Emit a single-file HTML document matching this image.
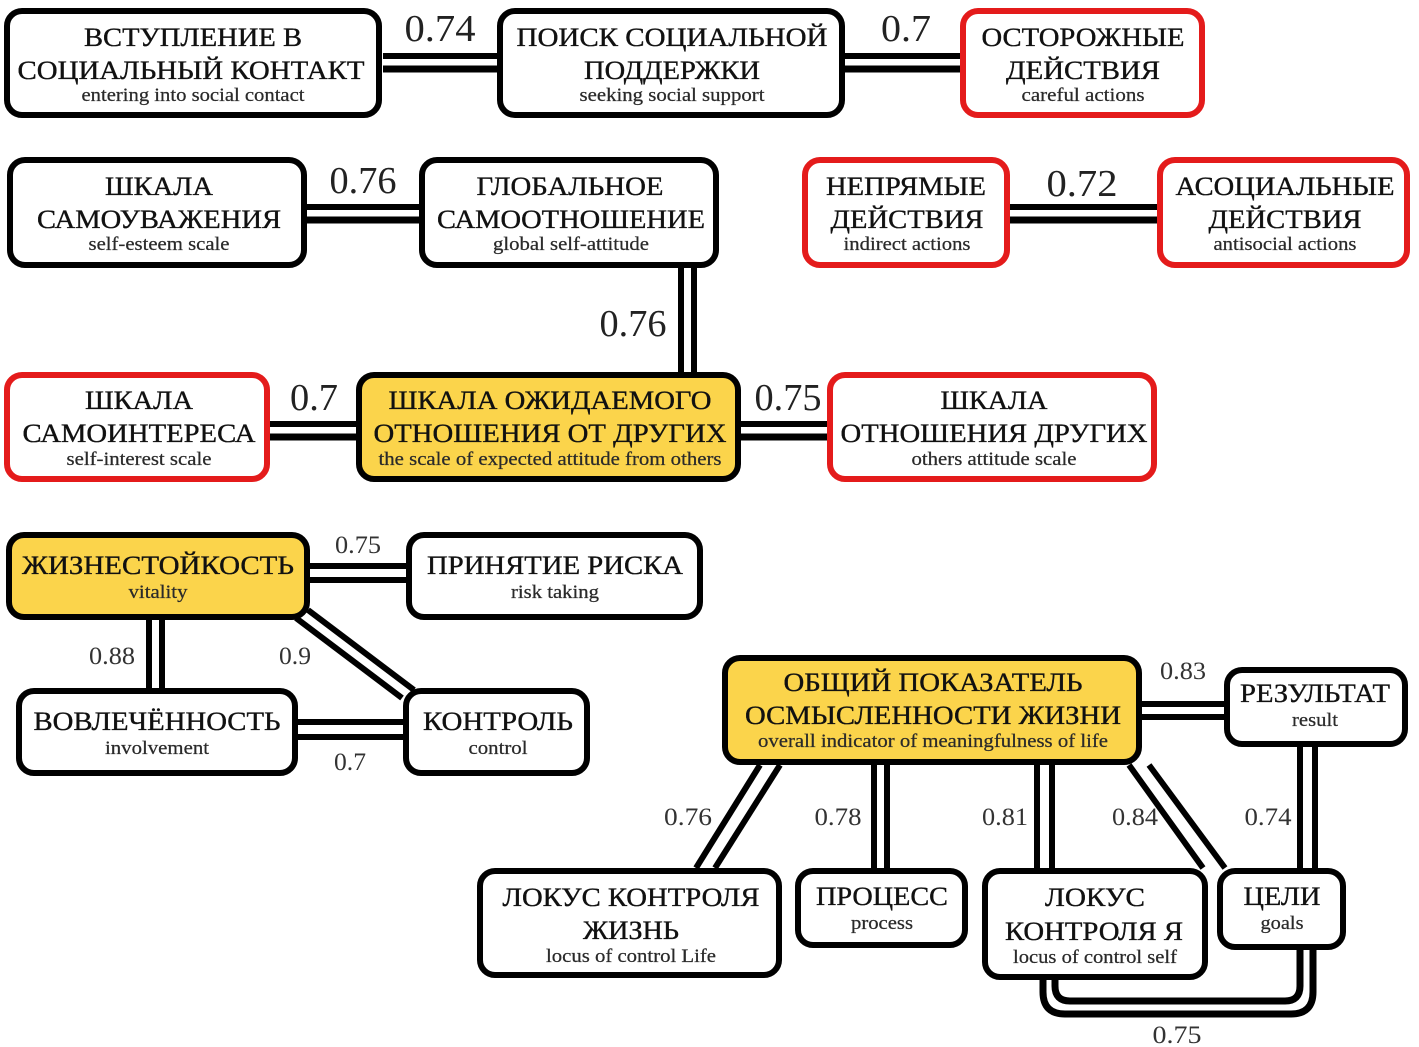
<!DOCTYPE html>
<html><head><meta charset="utf-8">
<style>
html,body{margin:0;padding:0;background:#fff;}
svg{display:block;}
text{font-family:"Liberation Serif","DejaVu Serif",serif;}
.t{font-size:26px;fill:#111;stroke:#111;stroke-width:0.35;text-anchor:middle;}
.s{font-size:19px;fill:#2a2a2a;stroke:#2a2a2a;stroke-width:0.25;text-anchor:middle;}
.L{font-size:38px;fill:#222;text-anchor:middle;}
.l{font-size:25px;fill:#333;text-anchor:middle;}
.c{stroke:#000;stroke-width:6;fill:none;}
.bk{fill:#fff;stroke:#000;stroke-width:6;}
.rd{fill:#fff;stroke:#e41b1b;stroke-width:6;}
.yl{fill:#fbd44b;stroke:#000;stroke-width:6;}
</style></head><body>
<svg width="1419" height="1047" viewBox="0 0 1419 1047" xmlns="http://www.w3.org/2000/svg">
<!-- connectors -->
<g class="c">
<line x1="383" y1="56" x2="497" y2="56"/><line x1="383" y1="69" x2="497" y2="69" stroke-width="7"/>
<line x1="845" y1="56" x2="960" y2="56"/><line x1="845" y1="69" x2="960" y2="69" stroke-width="7"/>
<line x1="307" y1="207" x2="419" y2="207"/><line x1="307" y1="220" x2="419" y2="220" stroke-width="7"/>
<line x1="1010" y1="207" x2="1157" y2="207"/><line x1="1010" y1="220" x2="1157" y2="220" stroke-width="7"/>
<line x1="681" y1="268" x2="681" y2="372"/><line x1="694" y1="268" x2="694" y2="372"/>
<line x1="270" y1="424" x2="356" y2="424"/><line x1="270" y1="437" x2="356" y2="437" stroke-width="7"/>
<line x1="741" y1="424" x2="827" y2="424"/><line x1="741" y1="437" x2="827" y2="437" stroke-width="7"/>
<line x1="310" y1="566" x2="406" y2="566"/><line x1="310" y1="580" x2="406" y2="580"/>
<line x1="149" y1="620" x2="149" y2="688"/><line x1="162" y1="620" x2="162" y2="688"/>
<line x1="296" y1="618" x2="402" y2="698"/><line x1="308" y1="610" x2="414" y2="690"/>
<line x1="298" y1="722" x2="403" y2="722"/><line x1="298" y1="737" x2="403" y2="737"/>
<line x1="1142" y1="704" x2="1224" y2="704"/><line x1="1142" y1="717" x2="1224" y2="717"/>
<line x1="760" y1="765" x2="696" y2="868"/><line x1="780" y1="765" x2="715" y2="868"/>
<line x1="874" y1="765" x2="874" y2="868"/><line x1="887" y1="765" x2="887" y2="868"/>
<line x1="1037" y1="765" x2="1037" y2="868"/><line x1="1052" y1="765" x2="1052" y2="868"/>
<line x1="1129" y1="765" x2="1203" y2="868"/><line x1="1149" y1="765" x2="1225" y2="868"/>
<line x1="1300" y1="747" x2="1300" y2="868"/><line x1="1315" y1="747" x2="1315" y2="868"/>
<path d="M1043 975 L1043 992 Q1043 1014 1065 1014 L1291 1014 Q1313 1014 1313 992 L1313 945" stroke-width="7"/>
<path d="M1055 975 L1055 986 Q1055 1001 1070 1001 L1285 1001 Q1300 1001 1300 986 L1300 945" stroke-width="7"/>
</g>
<!-- boxes -->
<rect class="bk" x="7" y="11" width="372" height="104" rx="15"/>
<rect class="bk" x="500" y="11" width="342" height="104" rx="15"/>
<rect class="rd" x="963" y="11" width="239" height="104" rx="15"/>
<rect class="bk" x="10" y="160" width="294" height="105" rx="15"/>
<rect class="bk" x="422" y="160" width="294" height="105" rx="15"/>
<rect class="rd" x="805" y="160" width="202" height="105" rx="15"/>
<rect class="rd" x="1160" y="160" width="247" height="105" rx="15"/>
<rect class="rd" x="7" y="375" width="260" height="104" rx="15"/>
<rect class="yl" x="359" y="375" width="379" height="104" rx="15"/>
<rect class="rd" x="830" y="375" width="324" height="104" rx="15"/>
<rect class="yl" x="9" y="535" width="298" height="82" rx="15"/>
<rect class="bk" x="409" y="535" width="291" height="82" rx="15"/>
<rect class="bk" x="19" y="691" width="276" height="82" rx="15"/>
<rect class="bk" x="406" y="691" width="181" height="82" rx="15"/>
<rect class="yl" x="725" y="658" width="414" height="104" rx="15"/>
<rect class="bk" x="1227" y="670" width="178" height="74" rx="15"/>
<rect class="bk" x="480" y="871" width="299" height="104" rx="15"/>
<rect class="bk" x="798" y="871" width="167" height="74" rx="15"/>
<rect class="bk" x="985" y="871" width="220" height="106" rx="15"/>
<rect class="bk" x="1220" y="871" width="123" height="76" rx="15"/>
<!-- box texts -->
<text class="t" x="193" y="46" textLength="218" lengthAdjust="spacingAndGlyphs">ВСТУПЛЕНИЕ В</text>
<text class="t" x="191" y="79" textLength="347" lengthAdjust="spacingAndGlyphs">СОЦИАЛЬНЫЙ КОНТАКТ</text>
<text class="s" x="193" y="101" textLength="223" lengthAdjust="spacingAndGlyphs">entering into social contact</text>

<text class="t" x="672" y="46" textLength="311" lengthAdjust="spacingAndGlyphs">ПОИСК СОЦИАЛЬНОЙ</text>
<text class="t" x="672" y="79" textLength="176" lengthAdjust="spacingAndGlyphs">ПОДДЕРЖКИ</text>
<text class="s" x="672" y="101" textLength="185" lengthAdjust="spacingAndGlyphs">seeking social support</text>

<text class="t" x="1083" y="46" textLength="203" lengthAdjust="spacingAndGlyphs">ОСТОРОЖНЫЕ</text>
<text class="t" x="1083" y="79" textLength="154" lengthAdjust="spacingAndGlyphs">ДЕЙСТВИЯ</text>
<text class="s" x="1083" y="101" textLength="123" lengthAdjust="spacingAndGlyphs">careful actions</text>

<text class="t" x="159" y="195" textLength="108" lengthAdjust="spacingAndGlyphs">ШКАЛА</text>
<text class="t" x="159" y="228" textLength="244" lengthAdjust="spacingAndGlyphs">САМОУВАЖЕНИЯ</text>
<text class="s" x="159" y="250" textLength="141" lengthAdjust="spacingAndGlyphs">self-esteem scale</text>

<text class="t" x="570" y="195" textLength="187" lengthAdjust="spacingAndGlyphs">ГЛОБАЛЬНОЕ</text>
<text class="t" x="571" y="228" textLength="268" lengthAdjust="spacingAndGlyphs">САМООТНОШЕНИЕ</text>
<text class="s" x="571" y="250" textLength="156" lengthAdjust="spacingAndGlyphs">global self-attitude</text>

<text class="t" x="906" y="195" textLength="160" lengthAdjust="spacingAndGlyphs">НЕПРЯМЫЕ</text>
<text class="t" x="907" y="228" textLength="153" lengthAdjust="spacingAndGlyphs">ДЕЙСТВИЯ</text>
<text class="s" x="907" y="250" textLength="127" lengthAdjust="spacingAndGlyphs">indirect actions</text>

<text class="t" x="1285" y="195" textLength="219" lengthAdjust="spacingAndGlyphs">АСОЦИАЛЬНЫЕ</text>
<text class="t" x="1285" y="228" textLength="153" lengthAdjust="spacingAndGlyphs">ДЕЙСТВИЯ</text>
<text class="s" x="1285" y="250" textLength="143" lengthAdjust="spacingAndGlyphs">antisocial actions</text>

<text class="t" x="139" y="409" textLength="108" lengthAdjust="spacingAndGlyphs">ШКАЛА</text>
<text class="t" x="139" y="442" textLength="233" lengthAdjust="spacingAndGlyphs">САМОИНТЕРЕСА</text>
<text class="s" x="139" y="465" textLength="145" lengthAdjust="spacingAndGlyphs">self-interest scale</text>

<text class="t" x="550" y="409" textLength="323" lengthAdjust="spacingAndGlyphs">ШКАЛА ОЖИДАЕМОГО</text>
<text class="t" x="550" y="442" textLength="353" lengthAdjust="spacingAndGlyphs">ОТНОШЕНИЯ ОТ ДРУГИХ</text>
<text class="s" x="550" y="465" textLength="343" lengthAdjust="spacingAndGlyphs">the scale of expected attitude from others</text>

<text class="t" x="994" y="409" textLength="107" lengthAdjust="spacingAndGlyphs">ШКАЛА</text>
<text class="t" x="994" y="442" textLength="307" lengthAdjust="spacingAndGlyphs">ОТНОШЕНИЯ ДРУГИХ</text>
<text class="s" x="994" y="465" textLength="165" lengthAdjust="spacingAndGlyphs">others attitude scale</text>

<text class="t" x="158" y="574" textLength="272" lengthAdjust="spacingAndGlyphs">ЖИЗНЕСТОЙКОСТЬ</text>
<text class="s" x="158" y="598" textLength="59" lengthAdjust="spacingAndGlyphs">vitality</text>

<text class="t" x="555" y="574" textLength="256" lengthAdjust="spacingAndGlyphs">ПРИНЯТИЕ РИСКА</text>
<text class="s" x="555" y="598" textLength="88" lengthAdjust="spacingAndGlyphs">risk taking</text>

<text class="t" x="157" y="730" textLength="247" lengthAdjust="spacingAndGlyphs">ВОВЛЕЧЁННОСТЬ</text>
<text class="s" x="157" y="754" textLength="104" lengthAdjust="spacingAndGlyphs">involvement</text>

<text class="t" x="498" y="730" textLength="150" lengthAdjust="spacingAndGlyphs">КОНТРОЛЬ</text>
<text class="s" x="498" y="754" textLength="59" lengthAdjust="spacingAndGlyphs">control</text>

<text class="t" x="933" y="691" textLength="299" lengthAdjust="spacingAndGlyphs">ОБЩИЙ ПОКАЗАТЕЛЬ</text>
<text class="t" x="933" y="724" textLength="376" lengthAdjust="spacingAndGlyphs">ОСМЫСЛЕННОСТИ ЖИЗНИ</text>
<text class="s" x="933" y="747" textLength="350" lengthAdjust="spacingAndGlyphs">overall indicator of meaningfulness of life</text>

<text class="t" x="1315" y="702" textLength="150" lengthAdjust="spacingAndGlyphs">РЕЗУЛЬТАТ</text>
<text class="s" x="1315" y="726" textLength="46" lengthAdjust="spacingAndGlyphs">result</text>

<text class="t" x="631" y="906" textLength="257" lengthAdjust="spacingAndGlyphs">ЛОКУС КОНТРОЛЯ</text>
<text class="t" x="631" y="939" textLength="96" lengthAdjust="spacingAndGlyphs">ЖИЗНЬ</text>
<text class="s" x="631" y="962" textLength="170" lengthAdjust="spacingAndGlyphs">locus of control Life</text>

<text class="t" x="882" y="905" textLength="132" lengthAdjust="spacingAndGlyphs">ПРОЦЕСС</text>
<text class="s" x="882" y="929" textLength="62" lengthAdjust="spacingAndGlyphs">process</text>

<text class="t" x="1095" y="906" textLength="100" lengthAdjust="spacingAndGlyphs">ЛОКУС</text>
<text class="t" x="1094" y="940" textLength="178" lengthAdjust="spacingAndGlyphs">КОНТРОЛЯ Я</text>
<text class="s" x="1095" y="963" textLength="164" lengthAdjust="spacingAndGlyphs">locus of control self</text>

<text class="t" x="1282" y="905" textLength="77" lengthAdjust="spacingAndGlyphs">ЦЕЛИ</text>
<text class="s" x="1282" y="929" textLength="43" lengthAdjust="spacingAndGlyphs">goals</text>

<!-- labels -->
<text class="L" x="440" y="41" textLength="71" lengthAdjust="spacingAndGlyphs">0.74</text>
<text class="L" x="906" y="41" textLength="50" lengthAdjust="spacingAndGlyphs">0.7</text>
<text class="L" x="363" y="193" textLength="67" lengthAdjust="spacingAndGlyphs">0.76</text>
<text class="L" x="633" y="336" textLength="67" lengthAdjust="spacingAndGlyphs">0.76</text>
<text class="L" x="1082" y="196" textLength="71" lengthAdjust="spacingAndGlyphs">0.72</text>
<text class="L" x="314" y="410" textLength="48" lengthAdjust="spacingAndGlyphs">0.7</text>
<text class="L" x="788" y="410" textLength="67" lengthAdjust="spacingAndGlyphs">0.75</text>

<text class="l" x="358" y="553" textLength="46" lengthAdjust="spacingAndGlyphs">0.75</text>
<text class="l" x="112" y="664" textLength="46" lengthAdjust="spacingAndGlyphs">0.88</text>
<text class="l" x="295" y="664" textLength="32" lengthAdjust="spacingAndGlyphs">0.9</text>
<text class="l" x="350" y="770" textLength="32" lengthAdjust="spacingAndGlyphs">0.7</text>
<text class="l" x="1183" y="679" textLength="46" lengthAdjust="spacingAndGlyphs">0.83</text>
<text class="l" x="688" y="825" textLength="48" lengthAdjust="spacingAndGlyphs">0.76</text>
<text class="l" x="838" y="825" textLength="47" lengthAdjust="spacingAndGlyphs">0.78</text>
<text class="l" x="1005" y="825" textLength="46" lengthAdjust="spacingAndGlyphs">0.81</text>
<text class="l" x="1135" y="825" textLength="46" lengthAdjust="spacingAndGlyphs">0.84</text>
<text class="l" x="1268" y="825" textLength="47" lengthAdjust="spacingAndGlyphs">0.74</text>
<text class="l" x="1177" y="1043" textLength="49" lengthAdjust="spacingAndGlyphs">0.75</text>
</svg>
</body></html>
